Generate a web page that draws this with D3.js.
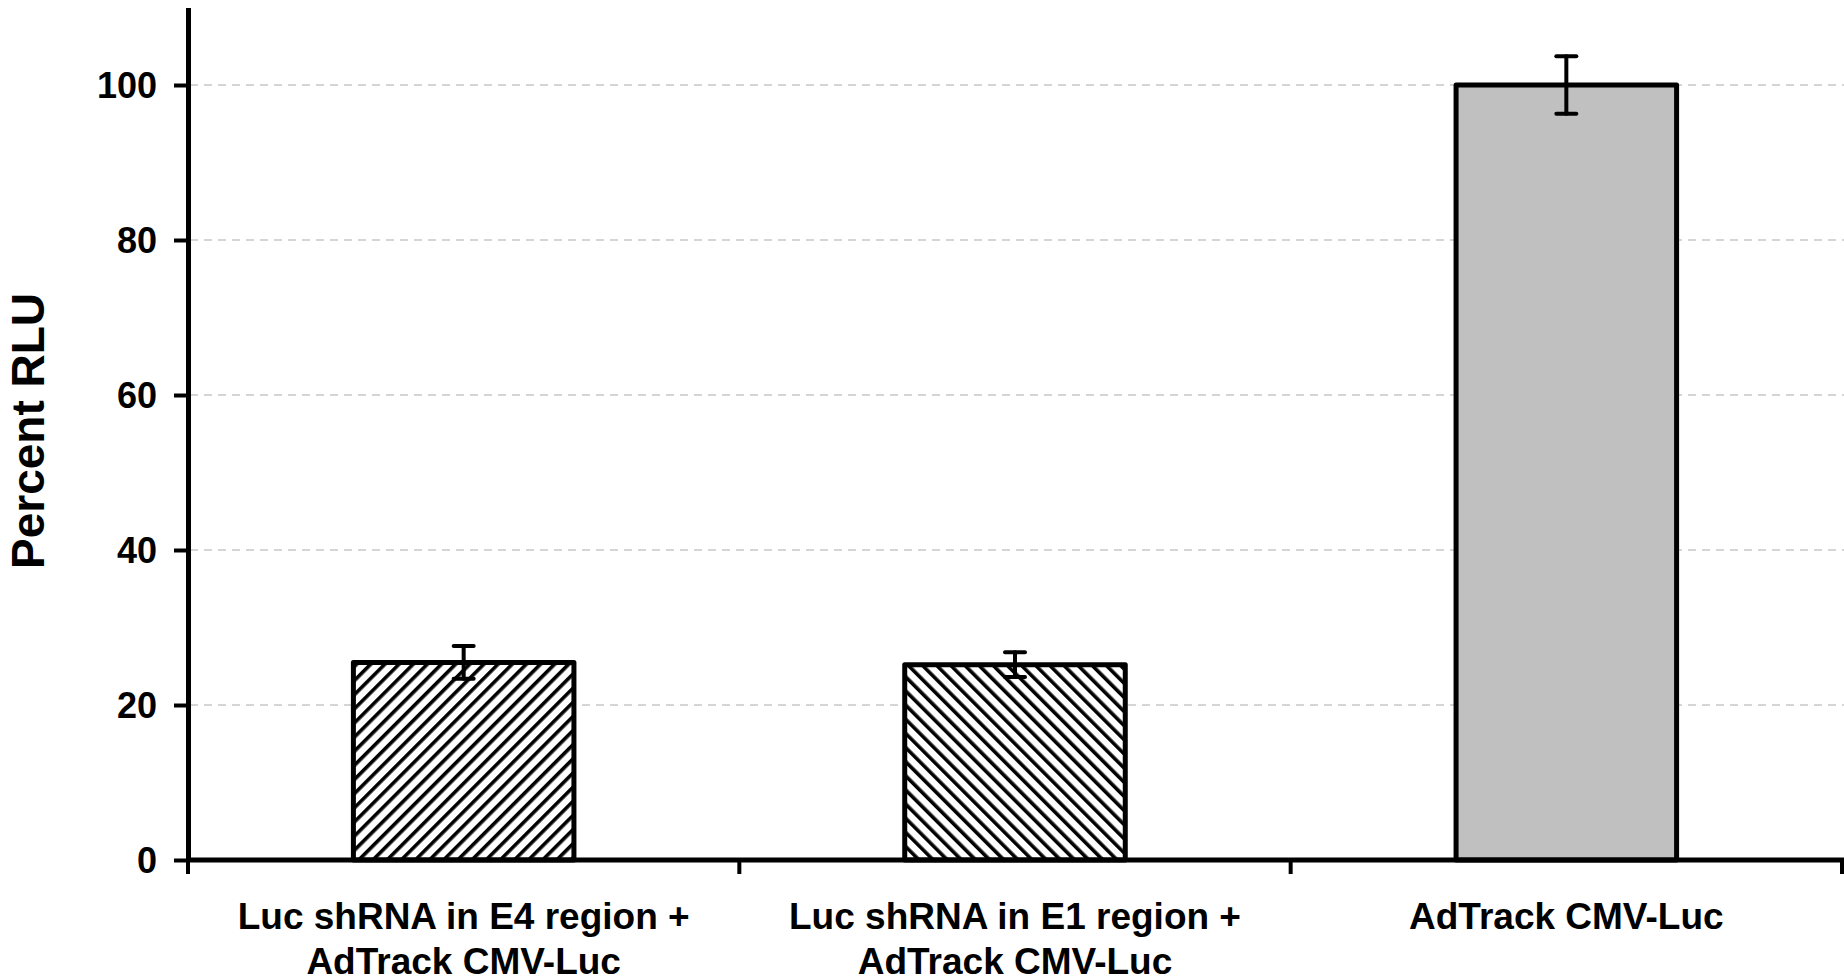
<!DOCTYPE html>
<html>
<head>
<meta charset="utf-8">
<script src="https://cdn.jsdelivr.net/npm/d3@7"></script>
<style>
  body { margin: 0; background: #fff; }
  text { font-family: "Liberation Sans", Arial, sans-serif; font-weight: bold; fill: #000; }
</style>
</head>
<body>
<div id="chart"></div>
<script>
const width = 1844;
const height = 980;

// data
const categories = [
  ["Luc shRNA in E4 region +", "AdTrack CMV-Luc"],
  ["Luc shRNA in E1 region +", "AdTrack CMV-Luc"],
  ["AdTrack CMV-Luc"]
];
const values = [25.5, 25.2, 100];
const errors = [2.1, 1.6, 3.7];
const fills = ["url(#hatchFwd)", "url(#hatchBack)", "#c0c0c0"];
const yTicks = [0, 20, 40, 60, 80, 100];

const svg = d3.select("#chart")
  .append("svg")
  .attr("width", width)
  .attr("height", height);

// hatch patterns
const defs = svg.append("defs");
[["hatchFwd", 45], ["hatchBack", -45]].forEach(([id, angle]) => {
  const p = defs.append("pattern")
    .attr("id", id)
    .attr("patternUnits", "userSpaceOnUse")
    .attr("width", 10)
    .attr("height", 10)
    .attr("patternTransform", "rotate(" + angle + ")");
  p.append("rect").attr("width", 10).attr("height", 10).attr("fill", "#fff");
  p.append("rect").attr("x", 0).attr("width", 3.6).attr("height", 10).attr("fill", "#000");
});

const keys = categories.map((d, i) => "c" + i);

const x = d3.scaleBand()
  .domain(keys)
  .range([188, 1842])
  .paddingInner(0.6)
  .paddingOuter(0.3);

const y = d3.scaleLinear()
  .domain([0, 110])
  .range([860, 7.5]);

// grid lines
svg.append("g")
  .selectAll("line")
  .data(yTicks.filter(d => d > 0))
  .enter()
  .append("line")
  .attr("x1", 190)
  .attr("x2", width)
  .attr("y1", d => y(d))
  .attr("y2", d => y(d))
  .attr("stroke", "#c8c8c8")
  .attr("stroke-width", 1.5)
  .attr("stroke-dasharray", "8,6");

// bars
svg.append("g")
  .selectAll("rect")
  .data(values)
  .enter()
  .append("rect")
  .attr("x", (d, i) => x(keys[i]))
  .attr("y", d => y(d))
  .attr("width", x.bandwidth())
  .attr("height", d => y(0) - y(d))
  .attr("fill", (d, i) => fills[i])
  .attr("stroke", "#000")
  .attr("stroke-width", 5)
  .attr("stroke-linejoin", "round");

// error bars
const err = svg.append("g").attr("stroke", "#000").attr("stroke-width", 4).attr("stroke-linecap", "round");
values.forEach((v, i) => {
  const cx = x(keys[i]) + x.bandwidth() / 2;
  const lo = y(v - errors[i]);
  const hi = y(v + errors[i]);
  err.append("line").attr("x1", cx).attr("x2", cx).attr("y1", lo).attr("y2", hi);
  err.append("line").attr("x1", cx - 10).attr("x2", cx + 10).attr("y1", lo).attr("y2", lo);
  err.append("line").attr("x1", cx - 10).attr("x2", cx + 10).attr("y1", hi).attr("y2", hi);
});

// y axis
const yAxis = svg.append("g")
  .attr("transform", "translate(188,0)")
  .call(d3.axisLeft(y).tickValues(yTicks).tickSize(14).tickPadding(17).tickSizeOuter(0));
yAxis.select(".domain").attr("stroke-width", 5);
yAxis.selectAll(".tick line").attr("stroke-width", 4);
yAxis.selectAll("text")
  .style("font-size", "36px")
  .style("font-family", "'Liberation Sans', Arial, sans-serif")
  .style("font-weight", "bold")
  .attr("dy", "0.36em");

// x axis line and ticks at band boundaries
const xAxis = svg.append("g");
xAxis.append("line")
  .attr("x1", 186)
  .attr("x2", width)
  .attr("y1", y(0))
  .attr("y2", y(0))
  .attr("stroke", "#000")
  .attr("stroke-width", 5);
const bounds = keys.map(k => x(k) - x.step() * x.paddingOuter()).concat([x.range()[1]]);
xAxis.selectAll(".xt")
  .data(bounds)
  .enter()
  .append("line")
  .attr("x1", d => d)
  .attr("x2", d => d)
  .attr("y1", y(0))
  .attr("y2", y(0) + 14)
  .attr("stroke", "#000")
  .attr("stroke-width", 4);

// category labels
const labels = svg.append("g")
  .selectAll("text")
  .data(categories)
  .enter()
  .append("text")
  .attr("text-anchor", "middle")
  .style("font-size", "37px");
labels.selectAll("tspan")
  .data((d, i) => d.map(t => ({ t: t, i: i })))
  .enter()
  .append("tspan")
  .attr("x", d => x(keys[d.i]) + x.bandwidth() / 2)
  .attr("y", (d, j) => 929 + j * 45)
  .text(d => d.t);

// y title
svg.append("text")
  .attr("transform", "translate(44,431) rotate(-90)")
  .attr("text-anchor", "middle")
  .style("font-size", "46px")
  .text("Percent RLU");
</script>
</body>
</html>
